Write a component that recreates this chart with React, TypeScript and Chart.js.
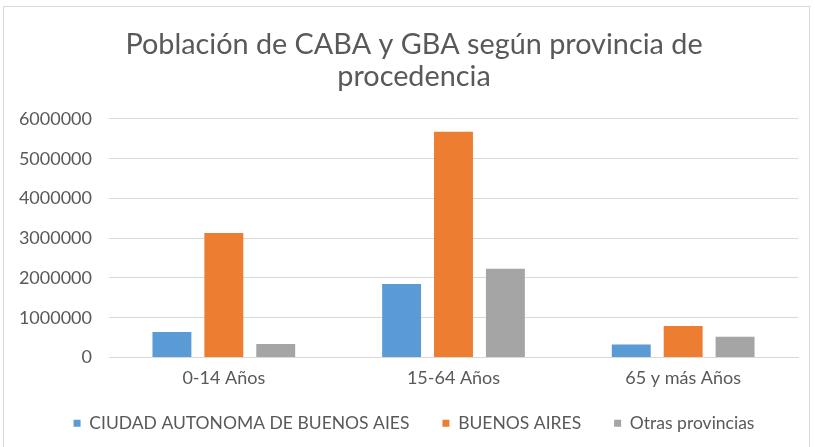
import React, { useEffect, useRef } from "react";
import { Chart, registerables } from "chart.js";

Chart.register(...registerables);

const titleLines = ["Población de CABA y GBA según provincia de", "procedencia"];
const categories = ["0-14 Años", "15-64 Años", "65 y más Años"];
const seriesNames = ["CIUDAD AUTONOMA DE BUENOS AIES", "BUENOS AIRES", "Otras provincias"];
const caba = [640000, 1850000, 330000];
const buenosAires = [3130000, 5680000, 790000];
const otras = [340000, 2230000, 520000];
const colors = ["#5B9BD5", "#ED7D31", "#A5A5A5"];
const yMax = 6000000;
const yStep = 1000000;

const FONT = "Lato, 'Open Sans', sans-serif";
const TEXT = "#595959";

const unclipLabels = {
  id: "unclipLabels",
  afterLayout(chart: any) {
    if (chart.scales.y) chart.scales.y.left = 0;
    if (chart.scales.x) chart.scales.x.bottom = chart.height;
  },
};

export default function App() {
  const ref = useRef<HTMLCanvasElement | null>(null);
  useEffect(() => {
    if (!ref.current) return;
    const values = [caba, buenosAires, otras];
    const chart = new Chart(ref.current, {
      type: "bar",
      data: {
        labels: categories,
        datasets: seriesNames.map((name, i) => ({
          label: name,
          data: values[i],
          backgroundColor: colors[i],
          borderWidth: 0,
          categoryPercentage: 0.678,
          barPercentage: 0.75,
        })),
      },
      plugins: [unclipLabels],
      options: {
        animation: false,
        responsive: true,
        maintainAspectRatio: false,
        layout: { padding: { left: 30, right: 17, top: 0, bottom: 5 } },
        plugins: {
          tooltip: { enabled: false },
          title: {
            display: true,
            text: titleLines,
            color: TEXT,
            font: { family: FONT, size: 28.8, weight: "normal", lineHeight: 1.11 },
            padding: { top: 29, bottom: 26 },
          },
          legend: {
            display: true,
            position: "bottom",
            labels: {
              color: TEXT,
              boxWidth: 7,
              boxHeight: 7,
              padding: 33,
              font: { family: FONT, size: 17.5 },
            },
          },
        },
        scales: {
          x: {
            grid: { display: false, drawTicks: false },
            border: { display: true, color: "#d9d9d9", width: 1 },
            ticks: { color: TEXT, font: { family: FONT, size: 18 }, padding: 10 },
            afterFit: (s: any) => { s.height = 24; },
          },
          y: {
            min: 0,
            max: yMax,
            ticks: {
              stepSize: yStep,
              color: TEXT,
              font: { family: FONT, size: 18 },
              padding: 17,
              callback: (v: any) => String(v),
            },
            grid: { color: "#d9d9d9", drawTicks: false },
            border: { display: false },
            afterFit: (s: any) => { s.width = 79; },
          },
        },
      },
    });
    return () => chart.destroy();
  }, []);
  return (
    <div style={{ position: "fixed", left: 0, top: 0, width: 815, height: 447, background: "#fff" }}>
      <canvas ref={ref} />
      <div
        style={{
          position: "fixed",
          left: 3,
          top: 6,
          width: 805,
          height: 441,
          borderTop: "1px solid #d9d9d9",
          borderLeft: "1px solid #d9d9d9",
          borderRight: "1px solid #d9d9d9",
          pointerEvents: "none",
        }}
      />
    </div>
  );
}
